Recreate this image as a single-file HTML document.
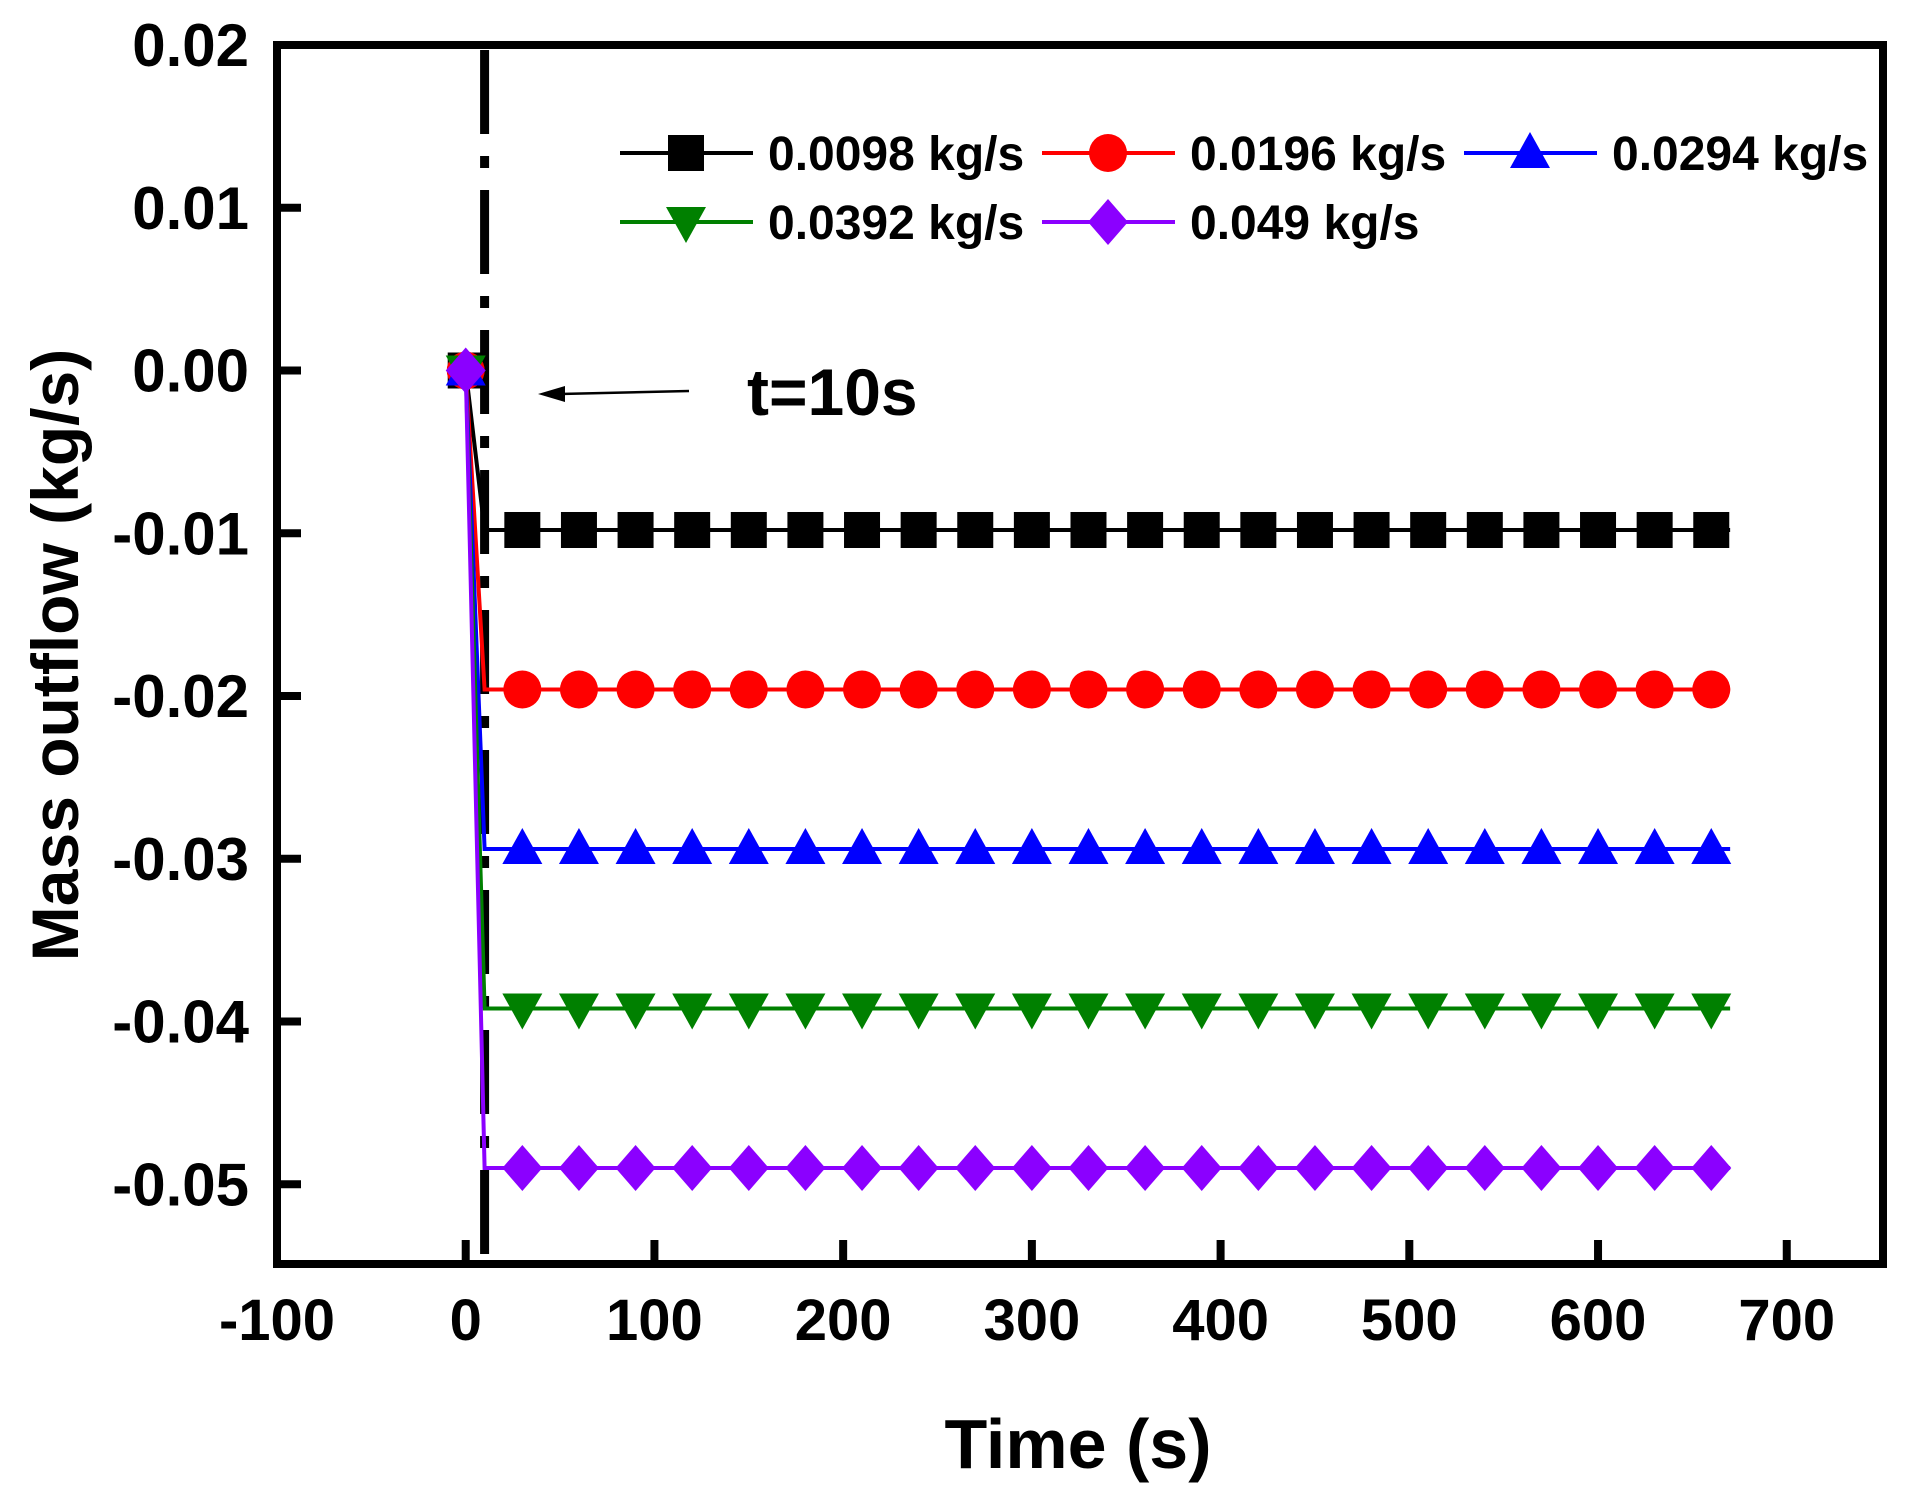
<!DOCTYPE html>
<html><head><meta charset="utf-8"><style>
html,body{margin:0;padding:0;background:#fff;}
svg{display:block;font-family:"Liberation Sans",Arial,sans-serif;font-weight:bold;}
</style></head><body>
<svg id="chart" width="1905" height="1497" viewBox="0 0 1905 1497" xmlns="http://www.w3.org/2000/svg">
<g id="grid"></g>
<g id="series"></g>
<g id="legend"></g>
</svg>
<script>
const seriesNames = ["0.0098 kg/s","0.0196 kg/s","0.0294 kg/s","0.0392 kg/s","0.049 kg/s"];
const seriesColors = ["#000000","#ff0000","#0000ff","#008000","#8b00ff"];
const seriesMarkers = ["square","circle","triangle","down","diamond"];
const seriesLevels = [-0.0098,-0.0196,-0.0294,-0.0392,-0.049];
const startTimes = [0,10];
const markerTimes = [30,60,90,120,150,180,210,240,270,300,330,360,390,420,450,480,510,540,570,600,630,660];
const endTime = 670;
const xTicks = [-100,0,100,200,300,400,500,600,700];
const yTicks = [0.02,0.01,0.00,-0.01,-0.02,-0.03,-0.04,-0.05];
const yTickLabels = ["0.02","0.01","0.00","-0.01","-0.02","-0.03","-0.04","-0.05"];
const eventTime = 10;

const L=277,R=1883,T=45,B=1264;
const xMin=-100,xMax=751,yMin=-0.0549,yMax=0.02;
function X(v){return L+(v-xMin)/(xMax-xMin)*(R-L);}
function Y(v){return T+(yMax-v)/(yMax-yMin)*(B-T);}
const NS="http://www.w3.org/2000/svg";
function mk(tag,attrs,parent){const e=document.createElementNS(NS,tag);for(const k in attrs)e.setAttribute(k,attrs[k]);parent.appendChild(e);return e;}
const svg=document.getElementById('chart');
const grid=document.getElementById('grid');
const ser=document.getElementById('series');
const leg=document.getElementById('legend');

function marker(type,cx,cy,color,parent){
  let e;
  if(type==="square"){e=mk('rect',{x:cx-18,y:cy-18,width:36,height:36,fill:color},parent);}
  else if(type==="circle"){e=mk('circle',{cx:cx,cy:cy,r:19,fill:color},parent);}
  else if(type==="triangle"){e=mk('polygon',{points:`${cx},${cy-21} ${cx+20},${cy+15} ${cx-20},${cy+15}`,fill:color},parent);}
  else if(type==="down"){e=mk('polygon',{points:`${cx},${cy+21} ${cx+20},${cy-15} ${cx-20},${cy-15}`,fill:color},parent);}
  else {e=mk('polygon',{points:`${cx},${cy-23} ${cx+20},${cy} ${cx},${cy+23} ${cx-20},${cy}`,fill:color},parent);}
  return e;
}

const ev=mk('line',{x1:X(eventTime),y1:T+5,x2:X(eventTime),y2:B,stroke:'#000','stroke-width':9,'stroke-dasharray':'84 22 12 22'},grid);



seriesLevels.forEach((lv,i)=>{
  const g=mk('g',{},ser);
  
  
  const pts=[[startTimes[0],0],[startTimes[1],lv],[endTime,lv]];
  const pl=mk('polyline',{points:pts.map(p=>X(p[0])+','+Y(p[1])).join(' '),fill:'none',stroke:seriesColors[i],'stroke-width':4},g);
  
  
  markerTimes.forEach(t=>{
    const m=marker(seriesMarkers[i],X(t),Y(lv),seriesColors[i],g);
    
    
  });
});
seriesLevels.forEach((lv,i)=>{
  const m=marker(seriesMarkers[i],X(startTimes[0]),Y(0),seriesColors[i],ser);
  
  
});

const fr=mk('rect',{x:L,y:T,width:R-L,height:B-T,fill:'none',stroke:'#000','stroke-width':8},svg);



yTicks.forEach((v,i)=>{
  const tk=mk('line',{x1:L,y1:Y(v),x2:L+24,y2:Y(v),stroke:'#000','stroke-width':8},svg);
  
  
  const tx=mk('text',{x:249,y:Y(v)+21,'text-anchor':'end','font-size':60},svg);
  tx.textContent=yTickLabels[i];
  
  
});
xTicks.forEach(v=>{
  const tk=mk('line',{x1:X(v),y1:B,x2:X(v),y2:B-24,stroke:'#000','stroke-width':8},svg);
  
  
  const tx=mk('text',{x:X(v),y:1340,'text-anchor':'middle','font-size':58},svg);
  tx.textContent=String(v);
  
  
});

const legPos=[[620,153],[1042,153],[1464,153],[620,222],[1042,222]];
seriesNames.forEach((n,i)=>{
  const [lx,ly]=legPos[i];
  const g=mk('g',{},leg);
  
  
  mk('line',{x1:lx,y1:ly,x2:lx+133,y2:ly,stroke:seriesColors[i],'stroke-width':4},g);
  marker(seriesMarkers[i],lx+66,ly,seriesColors[i],g);
  const tx=mk('text',{x:lx+148,y:ly+17,'font-size':48},g);
  tx.textContent=n;
});

const ar=mk('g',{},svg);


mk('line',{x1:689,y1:391,x2:560,y2:394,stroke:'#000','stroke-width':2.5},ar);
mk('polygon',{points:'538,394 565,386 565,402',fill:'#000'},ar);
const at=mk('text',{x:747,y:415,'font-size':66},svg);
at.textContent='t=10s';



const xt=mk('text',{x:1078,y:1468,'text-anchor':'middle','font-size':70},svg);
xt.textContent='Time (s)';


const yt=mk('text',{x:0,y:0,'text-anchor':'middle','font-size':66,transform:'translate(78,655) rotate(-90)'},svg);
yt.textContent='Mass outflow (kg/s)';


</script>
</body></html>
